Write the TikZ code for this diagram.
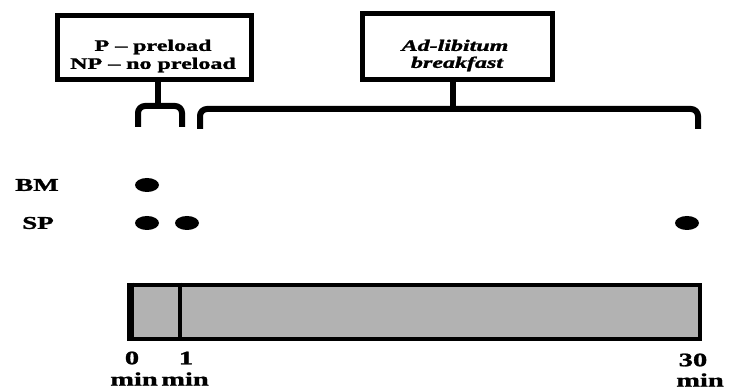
\documentclass[tikz,border=0pt]{standalone}
\usepackage{fontspec}
\setmainfont{Liberation Serif}[BoldFeatures={FakeBold=1.2}, BoldItalicFeatures={FakeBold=1.2}]
\usepackage{graphicx}
\usetikzlibrary{shapes.geometric,calc}
% text in this figure is set wide (horizontal stretch)
\newcommand{\widetext}[1]{\scalebox{1.5}[1]{#1}}
\tikzset{
  legendbox/.style={draw=black, line width=5pt, fill=white, inner sep=0pt},
  boxtext/.style={inner sep=0pt, font=\fontsize{16}{18}\selectfont\bfseries, align=center},
  brace/.style={line width=6pt, rounded corners=7pt, line cap=butt},
  stem/.style={line width=5.5pt},
  dot/.style={ellipse, fill=black, minimum width=24pt, minimum height=14pt, inner sep=0pt},
  rowlabel/.style={inner sep=0pt, font=\fontsize{18}{20}\selectfont\bfseries},
  timebar/.style={draw=black, line width=4.5pt, fill=black!30, inner sep=0pt},
  ticklabel/.style={inner sep=0pt, font=\fontsize{19}{21}\selectfont\bfseries},
}
\begin{document}
\begin{tikzpicture}[x=1pt, y=-1pt]
\useasboundingbox (0,0) rectangle (729,390);

% legend boxes
\node[legendbox, minimum width=194pt, minimum height=64pt] (pbox) at (154,48) {};
\node[boxtext] (ptext) at (153,56) {\widetext{P -- preload}\\\widetext{NP -- no preload}};
\node[legendbox, minimum width=190pt, minimum height=66pt] (abox) at (457,47) {};
\node[boxtext, font=\fontsize{16}{17}\selectfont\bfseries\itshape] (atext) at (455,55.5) {\widetext{Ad-libitum}\\\widetext{\,breakfast}};

% brace under the preload box
\coordinate (s1) at (158,106);
\coordinate (bl1) at (138,127);
\coordinate (br1) at (182,127);
\draw[stem] (pbox.south -| s1) -- (s1);
\draw[brace] (bl1) |- (s1) -| (br1);
\fill ($(s1)+(-7,3)$) .. controls ($(s1)+(-2,3)$) and ($(s1)+(-2,0)$) .. ($(s1)+(-2,-9)$)
  -- ($(s1)+(2,-9)$) .. controls ($(s1)+(2,0)$) and ($(s1)+(2,3)$) .. ($(s1)+(7,3)$) -- cycle;

% brace under the breakfast box
\coordinate (s2) at (453,109);
\coordinate (bl2) at (200,129);
\coordinate (br2) at (698,129);
\draw[stem] (abox.south -| s2) -- (s2);
\draw[brace] (bl2) |- (s2) -| (br2);
\fill ($(s2)+(-7,3)$) .. controls ($(s2)+(-2,3)$) and ($(s2)+(-2,0)$) .. ($(s2)+(-2,-9)$)
  -- ($(s2)+(2,-9)$) .. controls ($(s2)+(2,0)$) and ($(s2)+(2,3)$) .. ($(s2)+(7,3)$) -- cycle;

% sampling rows
\node[rowlabel] (bm) at (37,185) {\widetext{BM}};
\node[rowlabel] (sp) at (38,223) {\widetext{SP}};
\node[dot] (bm0) at (147,185) {};
\node[dot] (sp0) at (147,223) {};
\node[dot] (sp1) at (187,223) {};
\node[dot] (sp30) at (687,223) {};

% time line
\node[timebar, minimum width=568pt, minimum height=54pt] (tl) at (416,312) {};
\draw[line width=6.5pt] ($(tl.north west)+(0.5,0)$) -- ($(tl.south west)+(0.5,0)$);
\coordinate (d1) at (180,312);
\draw[line width=4pt] (tl.north -| d1) -- (tl.south -| d1);

% time labels
\node[ticklabel] (t0) at (132,358) {\widetext{0}};
\node[ticklabel] (t1) at (186,358) {\widetext{1}};
\node[ticklabel] (t30) at (693,360) {\widetext{30}};
\node[ticklabel] (m0) at (134,379) {\widetext{min}};
\node[ticklabel] (m1) at (185,379) {\widetext{min}};
\node[ticklabel] (m30) at (700,380) {\widetext{min}};
\end{tikzpicture}
\end{document}
